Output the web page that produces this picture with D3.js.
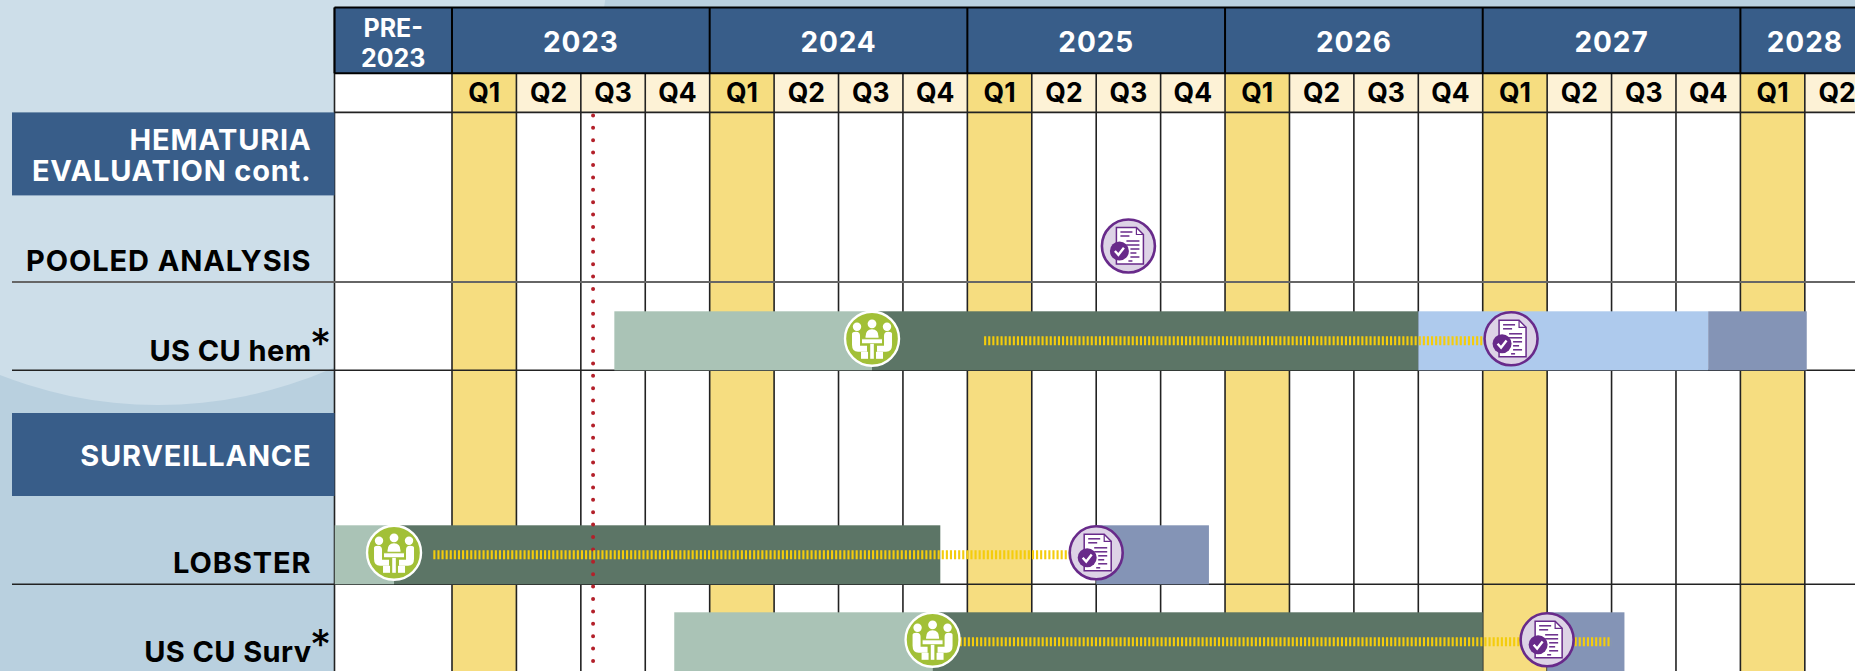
<!DOCTYPE html>
<html><head><meta charset="utf-8">
<script src="https://cdn.jsdelivr.net/npm/d3@7"></script>
<style>html,body{margin:0;padding:0;overflow:hidden;background:#b9d0df}svg{display:block}text{font-family:Inter,Lato,sans-serif}</style>
</head><body><svg id="c" width="1855" height="671"></svg>
<script>
// ---- data ----
const years = ["2023","2024","2025","2026","2027","2028"];
const yearStart = [0,4,8,12,16,20];
const yearEnd = [4,8,12,16,20,22.8];
const quarterLabels = ["Q1","Q2","Q3","Q4","Q1","Q2","Q3","Q4","Q1","Q2","Q3","Q4","Q1","Q2","Q3","Q4","Q1","Q2","Q3","Q4","Q1","Q2"];
const rowNames = ["POOLED ANALYSIS","US CU hem","LOBSTER","US CU Surv"];
const sectionNames = [["HEMATURIA","EVALUATION cont."],["SURVEILLANCE"]];
const starred = ["US CU hem","US CU Surv"];
const segRow   = ["US CU hem","US CU hem","US CU hem","US CU hem","LOBSTER","LOBSTER","LOBSTER","US CU Surv","US CU Surv","US CU Surv"];
const segStart = [2.52,6.52,15.0,19.5,-1.82,-0.9,10.0,3.45,7.46,17.0];
const segEnd   = [6.52,15.0,19.5,21.03,-0.9,7.58,11.75,7.46,16.0,18.2];
const segKind  = ["enroll","followup","analysis","publish","enroll","followup","publish","enroll","followup","publish"];
const dashRow   = ["US CU hem","LOBSTER","US CU Surv"];
const dashStart = [8.26,-0.29,7.88];
const dashEnd   = [16.0,9.6,18.0];
const meetRow = ["US CU hem","LOBSTER","US CU Surv"];
const meetAt  = [6.52,-0.9,7.46];
const docRow = ["POOLED ANALYSIS","US CU hem","LOBSTER","US CU Surv"];
const docAt  = [10.5,16.44,10.0,17.0];
const todayAt = 2.19;
const kindColor = {enroll:"#aac3b6",followup:"#5c7566",analysis:"#aecaed",publish:"#8494b6"};

// ---- scales ----
const x = d3.scaleLinear().domain([0,22]).range([452,452+64.42*22]);
const preLeft = 334.5;
const quarterKeys = quarterLabels.map((q,i)=>i);
const band = d3.scaleBand().domain(quarterKeys).range([x(0),x(22)]);
const rowBottom = d3.scaleOrdinal().domain(rowNames).range([282,370.3,584.3,671.3]);
const barH = 59;
const svg = d3.select("#c");
const W=1855,H=671;

// ---- background ----
svg.append("rect").attr("width",W).attr("height",H).attr("fill","#b9d0df");
svg.append("ellipse").attr("cx",158).attr("cy",-69).attr("rx",452).attr("ry",474).attr("fill","#cddee9");

// ---- grid area ----
const yTop=7.5, headB=73.3, qB=112.4;
svg.append("rect").attr("x",preLeft).attr("y",qB).attr("width",W-preLeft).attr("height",H-qB).attr("fill","#fff");
svg.append("rect").attr("x",preLeft).attr("y",headB).attr("width",x(0)-preLeft).attr("height",qB-headB).attr("fill","#fff");
svg.selectAll("rect.q1col").data(yearStart).join("rect").attr("class","q1col")
  .attr("x",d=>x(d)).attr("width",x(1)-x(0)).attr("y",qB).attr("height",H-qB).attr("fill","#f6dd80");
svg.selectAll("rect.qcell").data(quarterKeys).join("rect").attr("class","qcell")
  .attr("x",d=>band(d)).attr("width",band.bandwidth()).attr("y",headB).attr("height",qB-headB)
  .attr("fill",d=>quarterLabels[d]==="Q1"?"#f6dd80":"#fdf2d6");

// header bands
svg.append("rect").attr("x",preLeft).attr("y",yTop).attr("width",W-preLeft).attr("height",headB-yTop).attr("fill","#385d89");

// vertical grid
const gridAt = d3.range(0,22);
svg.selectAll("line.v").data(gridAt).join("line").attr("class","v")
  .attr("x1",d=>x(d)).attr("x2",d=>x(d)).attr("y1",headB).attr("y2",H).attr("stroke","#222").attr("stroke-width",1.6);
svg.append("line").attr("x1",preLeft).attr("x2",preLeft).attr("y1",yTop).attr("y2",H).attr("stroke","#222").attr("stroke-width",1.6);

// section bars
const sectionY = d3.scaleOrdinal().domain([0,1]).range([112.4,413]);
svg.selectAll("rect.sec").data(sectionNames).join("rect").attr("class","sec")
  .attr("x",12).attr("width",preLeft-12).attr("y",(d,i)=>sectionY(i)).attr("height",83).attr("fill","#385d89");
sectionNames.forEach((lines,i)=>{
  const c = sectionY(i)+41.5, lh=31;
  const t = svg.append("text").attr("text-anchor","end").attr("fill","#fff").attr("font-weight",700).attr("font-size",29).attr("letter-spacing",0.8);
  lines.forEach((s,j)=>{
    t.append("tspan").attr("x",311.5).attr("y",c+(j-(lines.length-1)/2)*lh+11.5).text(s);
  });
});

// horizontal rules
svg.selectAll("line.h").data(rowNames.slice(0,3)).join("line").attr("class","h")
  .attr("x1",12).attr("x2",W).attr("y1",d=>rowBottom(d)).attr("y2",d=>rowBottom(d))
  .attr("stroke",(d,i)=>i===0?"#666":"#222").attr("stroke-width",(d,i)=>i===0?1.8:1.5);

// quarter axis
const qAxis = d3.axisBottom(band).tickSize(0).tickPadding(0).tickFormat(i=>quarterLabels[i]);
const qg = svg.append("g").attr("transform",`translate(0,${headB})`).call(qAxis);
qg.select(".domain").remove();
qg.selectAll("text").attr("y",29).attr("dy",0).attr("fill","#000").attr("font-size",26.5).attr("font-weight",700).style("font-family","Inter,Lato,sans-serif");
// quarter row frame
svg.append("line").attr("x1",preLeft).attr("x2",W).attr("y1",qB).attr("y2",qB).attr("stroke","#222").attr("stroke-width",1.8);
// header frame
svg.append("line").attr("x1",preLeft).attr("x2",W).attr("y1",yTop).attr("y2",yTop).attr("stroke","#000").attr("stroke-width",2);
svg.append("line").attr("x1",preLeft).attr("x2",W).attr("y1",headB).attr("y2",headB).attr("stroke","#000").attr("stroke-width",2);
svg.selectAll("line.yr").data(yearStart).join("line").attr("class","yr")
  .attr("x1",d=>x(d)).attr("x2",d=>x(d)).attr("y1",yTop).attr("y2",headB).attr("stroke","#000").attr("stroke-width",2);
svg.append("line").attr("x1",preLeft).attr("x2",preLeft).attr("y1",yTop).attr("y2",headB).attr("stroke","#000").attr("stroke-width",2);

// header text
svg.selectAll("text.yr").data(years).join("text").attr("class","yr")
  .attr("x",(d,i)=>i===5?x(21):x((yearStart[i]+yearEnd[i])/2)).attr("y",51.5).attr("text-anchor","middle")
  .attr("fill","#fff").attr("font-weight",700).attr("font-size",28).attr("letter-spacing",0.9).text(d=>d);
["PRE-","2023"].forEach((t,i)=>svg.append("text").attr("x",(preLeft+x(0))/2).attr("y",36.5+i*30).attr("text-anchor","middle")
  .attr("fill","#fff").attr("font-weight",700).attr("font-size",25).text(t));

// row labels
rowNames.forEach(n=>{
  const yb=rowBottom(n);
  const caps = n===n.toUpperCase();
  svg.append("text").attr("x",311.5).attr("y",yb-(caps?11.5:9.5)).attr("text-anchor","end").attr("fill","#000")
    .attr("font-weight",700).attr("font-size",29).attr("letter-spacing",caps?0.9:0.4).text(n);
  if(starred.includes(n)) svg.append("text").attr("x",310).attr("y",yb-11.5).attr("fill","#000")
    .attr("font-weight",400).attr("font-size",42).text("*");
});

const bars = svg.append("g");
bars.selectAll("rect").data(segRow.map((r,i)=>({r,s:segStart[i],e:segEnd[i],k:segKind[i]}))).join("rect")
  .attr("x",d=>x(d.s)).attr("width",d=>x(d.e)-x(d.s)).attr("y",d=>rowBottom(d.r)-barH).attr("height",barH)
  .attr("fill",d=>kindColor[d.k]);

svg.append("line").attr("x1",x(todayAt)).attr("x2",x(todayAt)).attr("y1",qB+3).attr("y2",H)
  .attr("stroke","#b3202a").attr("stroke-width",4).attr("stroke-linecap","round").attr("stroke-dasharray","0 12.4");

// dashes
svg.selectAll("line.dash").data(dashRow).join("line").attr("class","dash")
  .attr("x1",(d,i)=>x(dashStart[i])).attr("x2",(d,i)=>x(dashEnd[i]))
  .attr("y1",d=>rowBottom(d)-barH/2).attr("y2",d=>rowBottom(d)-barH/2)
  .attr("stroke","#f4cc0c").attr("stroke-width",9).attr("stroke-dasharray","2.1 2");

// meeting icons
function meeting(g){
  g.append("circle").attr("r",27).attr("fill","#a2c037").attr("stroke","#fff").attr("stroke-width",2.4);
  const w="#fff";
  [[-15,-12,4.2],[0,-15,4.4],[15,-12,4.2]].forEach(p=>g.append("circle").attr("cx",p[0]).attr("cy",p[1]).attr("r",p[2]).attr("fill",w));
  g.append("path").attr("fill",w).attr("d","M-6.5 -2 Q-6.5 -9.5 0 -9.5 Q6.5 -9.5 6.5 -2 L6.5 -1 L-6.5 -1 Z");
  g.append("path").attr("fill",w).attr("d","M-20 -5 Q-20 -7 -16 -7 Q-12 -7 -12 -3 L-12 7 L-5 7 L-5 13 L-14 13 Q-20 13 -20 6 Z");
  g.append("path").attr("fill",w).attr("d","M20 -5 Q20 -7 16 -7 Q12 -7 12 -3 L12 7 L5 7 L5 13 L14 13 Q20 13 20 6 Z");
  g.append("rect").attr("x",-10.5).attr("y",0).attr("width",21).attr("height",5).attr("fill",w).attr("stroke","#a2c037").attr("stroke-width",1);
  g.append("rect").attr("x",-1.8).attr("y",5).attr("width",3.6).attr("height",15).attr("fill",w);
  g.append("rect").attr("x",-11).attr("y",13).attr("width",7).attr("height",7).attr("fill",w);
  g.append("rect").attr("x",4).attr("y",13).attr("width",7).attr("height",7).attr("fill",w);
}
meetRow.forEach((r,i)=>{
  const g=svg.append("g").attr("transform",`translate(${x(meetAt[i])},${rowBottom(r)-barH/2-2})`);
  meeting(g);
});

// doc icons
function doc(g){
  const p="#682a8a";
  g.append("circle").attr("r",26.5).attr("fill","#ddd3e6").attr("stroke",p).attr("stroke-width",2.6);
  g.append("path").attr("d","M-12 -18.5 L8 -18.5 L15 -11.5 L15 18 L-12 18 Z").attr("fill","#fff").attr("stroke",p).attr("stroke-width",1.5);
  g.append("path").attr("d","M8 -18.5 L8 -11.5 L15 -11.5").attr("fill","none").attr("stroke",p).attr("stroke-width",1.2);
  [[-8,4,-14],[-8,1,-10],[-2,11,-5],[-2,11,-1],[2,11,3],[2,8,7],[2,11,11],[0,4,15]].forEach(l=>
    g.append("line").attr("x1",l[0]).attr("x2",l[1]).attr("y1",l[2]).attr("y2",l[2]).attr("stroke",p).attr("stroke-width",1.5));
  g.append("circle").attr("cx",-9).attr("cy",5).attr("r",9.5).attr("fill",p);
  g.append("path").attr("d","M-13.5 5 L-10 8.8 L-4.5 1.8").attr("fill","none").attr("stroke","#fff").attr("stroke-width",2.4);
}
docRow.forEach((r,i)=>{
  const cy = r==="POOLED ANALYSIS" ? rowBottom(r)-36 : rowBottom(r)-barH/2-2;
  doc(svg.append("g").attr("transform",`translate(${x(docAt[i])},${cy})`));
});
</script></body></html>
